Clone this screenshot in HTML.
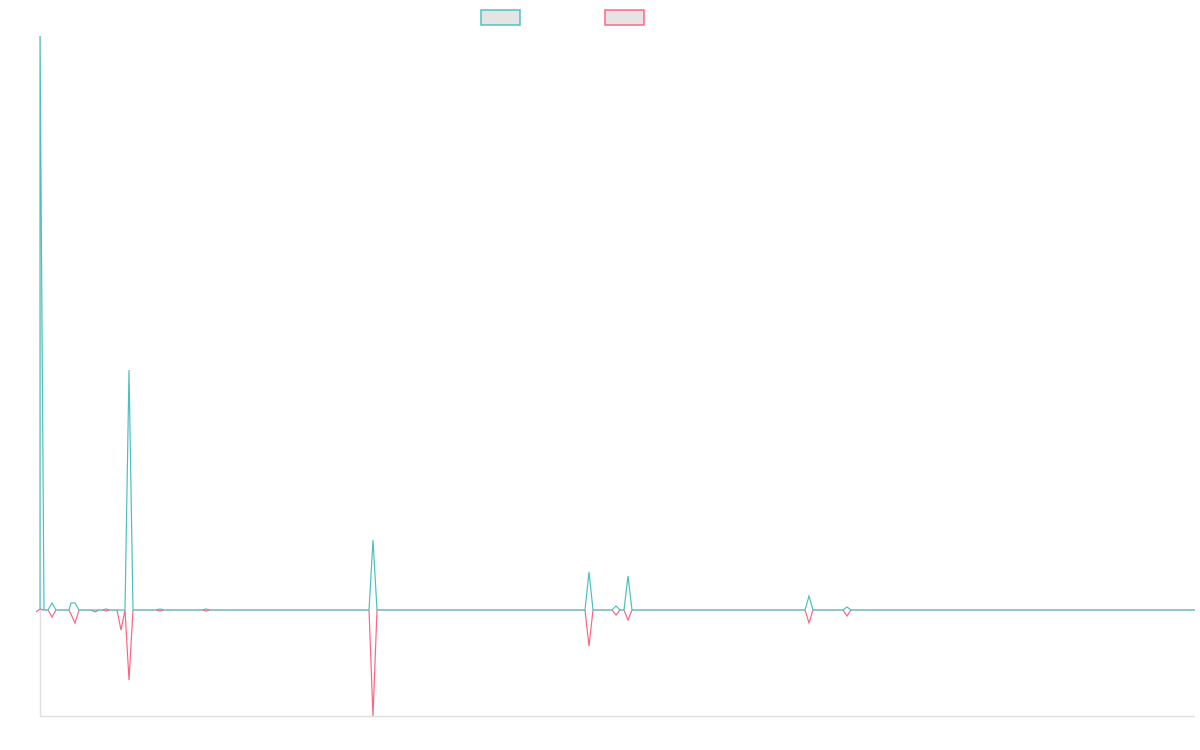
<!DOCTYPE html>
<html><head><style>body{margin:0;background:#fff}svg{display:block}</style></head><body>
<svg width="1200" height="750" xmlns="http://www.w3.org/2000/svg">
<rect x="481" y="10" width="39" height="15" fill="#e4e4e4" stroke="#4bc0c0" stroke-width="1.5"/>
<rect x="605" y="10" width="39" height="15" fill="#e4e4e4" stroke="#ff6384" stroke-width="1.5"/>
<polyline fill="none" stroke="#e0e0e0" stroke-width="1.5" points="40.5,36 40.5,716.5 1195,716.5"/>
<polyline fill="none" stroke="#ff6384" stroke-width="1.2" points="36,612 40,609 44,610 48,610 52,617 56,610 69,610 75,623 79,610 91,610 95,612 99,610 102,610 106,611 110,610 117,610 121,630 125,610 129,680 133,610 156,610 160,611 164,610 202,610 206,611 210,610 369,610 373,716 377,610 585,610 589,646 593,610 612,610 616,615 620,610 624,610 628,620 632,610 805,610 809,623 813,610 843,610 847,616 851,610 1195,610"/>
<polyline fill="none" stroke="#4bc0c0" stroke-width="1.2" points="40,610 40,36 44,610 48,610 52,603 56,610 69,610 71,603 75,603 79,610 91,610 95,610 102,610 106,609 110,610 125,610 129,370 133,610 156,610 160,609 164,610 202,610 206,609 210,610 369,610 373,540 377,610 585,610 589,572 593,610 612,610 616,606 620,610 624,610 628,576 632,610 805,610 809,596 813,610 843,610 847,607 851,610 1195,610"/>
</svg>
</body></html>
